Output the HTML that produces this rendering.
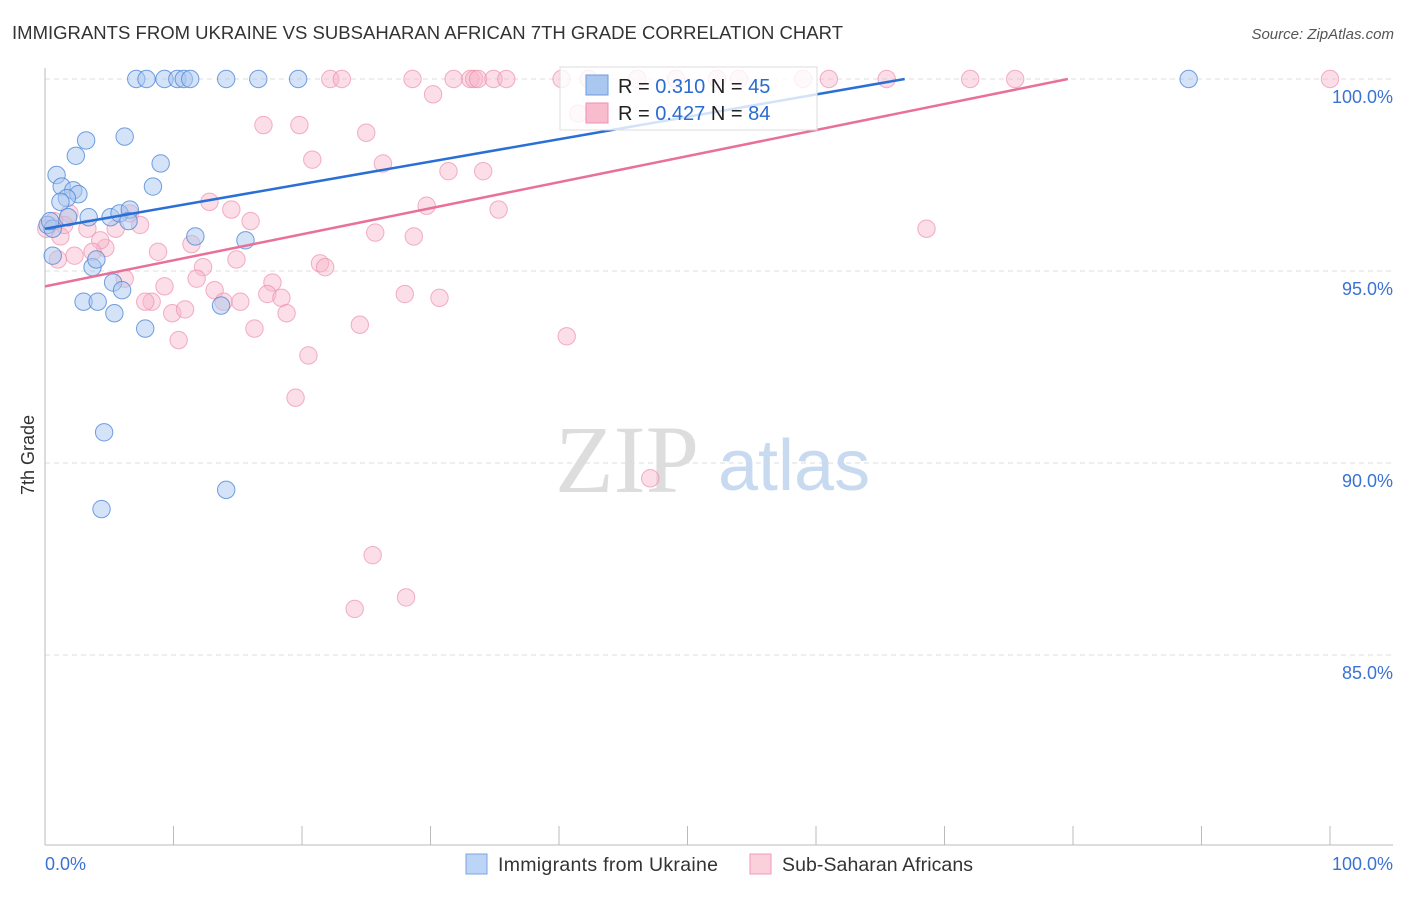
<!DOCTYPE html>
<html><head><meta charset="utf-8"><style>
body{margin:0;background:#fff;font-family:"Liberation Sans",sans-serif;}
</style></head><body>
<svg width="1406" height="892" xmlns="http://www.w3.org/2000/svg" style="font-family:'Liberation Sans',sans-serif">
<text x="12" y="39" font-size="18.5" fill="#333" textLength="831">IMMIGRANTS FROM UKRAINE VS SUBSAHARAN AFRICAN 7TH GRADE CORRELATION CHART</text>
<text x="1394" y="39" font-size="15" fill="#555" font-style="italic" text-anchor="end">Source: ZipAtlas.com</text>
<text x="34" y="455" font-size="18" fill="#333" transform="rotate(-90 34 455)" text-anchor="middle">7th Grade</text>
<g id="grid"></g>
<text x="555" y="492" font-size="96" fill="#ddd" font-family="Liberation Serif">ZIP</text>
<text x="718" y="490" font-size="72" fill="#c8daf0">atlas</text>
<g id="pts"></g>
<g id="lines"></g>
<g>
<rect x="560" y="67" width="257" height="63" fill="#fff" fill-opacity="0.8" stroke="#ddd"/>
<rect x="586" y="75" width="22" height="20" fill="#a9c7ef" stroke="#6a9ee0"/>
<rect x="586" y="103" width="22" height="20" fill="#f9bccf" stroke="#ef8fb0"/>
<text x="618" y="93" font-size="20" fill="#222">R = <tspan fill="#2a6bd1">0.310</tspan>   N = <tspan fill="#2a6bd1">45</tspan></text>
<text x="618" y="120" font-size="20" fill="#222">R = <tspan fill="#2a6bd1">0.427</tspan>   N = <tspan fill="#2a6bd1">84</tspan></text>
</g>
<g>
<rect x="466" y="854" width="21" height="20" fill="#bcd4f5" stroke="#7aa6e4"/>
<text x="498" y="871" font-size="19.5" fill="#333" textLength="220">Immigrants from Ukraine</text>
<rect x="750" y="854" width="21" height="20" fill="#fbd0dd" stroke="#f09ab7"/>
<text x="782" y="871" font-size="19.5" fill="#333" textLength="191">Sub-Saharan Africans</text>
</g>
</svg>
<script>
const blueX=[7.1,7.9,9.3,10.3,10.8,11.3,14.1,16.6,19.7,89,6.2,3.2,2.4,0.9,1.3,2.2,2.6,1.7,1.2,8.4,9,3.4,5.1,5.8,6.6,6.5,1.8,0.2,0.6,0.6,3.7,4,5.3,6,3,4.1,5.4,7.8,11.7,15.6,13.7,4.6,4.4,14.1,0.4];
const blueY=[100,100,100,100,100,100,100,100,100,100,98.5,98.4,98,97.5,97.2,97.1,97,96.9,96.8,97.2,97.8,96.4,96.4,96.5,96.6,96.3,96.4,96.2,96.1,95.4,95.1,95.3,94.7,94.5,94.2,94.2,93.9,93.5,95.9,95.8,94.1,90.8,88.8,89.3,96.3];
const pinkX=[22.2,23.1,28.6,31.8,33.1,33.4,33.7,34.9,35.9,40.2,42.3,46.1,52.3,59,65.5,72,75.5,100,41.5,17,19.8,25,30.2,20.8,26.3,31.4,34.1,12.8,14.5,16,35.3,29.7,25.7,28.7,68.6,8.8,11.4,14.9,21.4,21.8,12.3,4.7,4.3,3.3,5.5,7.4,6.6,1.9,1.2,1.5,2.3,3.7,6.2,9.3,11.8,17.7,13.2,8.3,7.8,13.9,15.2,17.3,18.4,18.8,9.9,10.9,16.3,10.4,24.5,28,30.7,40.6,20.5,19.5,47.1,25.5,24.1,28.1,0.7,0.1,1,49.1,54,61];
const pinkY=[100,100,100,100,100,100,100,100,100,100,100,100,100,100,100,100,100,100,99.1,98.8,98.8,98.6,99.6,97.9,97.8,97.6,97.6,96.8,96.6,96.3,96.6,96.7,96,95.9,96.1,95.5,95.7,95.3,95.2,95.1,95.1,95.6,95.8,96.1,96.1,96.2,96.5,96.5,95.9,96.2,95.4,95.5,94.8,94.6,94.8,94.7,94.5,94.2,94.2,94.2,94.2,94.4,94.3,93.9,93.9,94,93.5,93.2,93.6,94.4,94.3,93.3,92.8,91.7,89.6,87.6,86.2,86.5,96.3,96.1,95.3,100,100,100];
const blueLine=[[0,96.1],[66.9,100]];
const pinkLine=[[0,94.6],[79.6,100]];
const xTicks=[0,10,20,30,40,50,60,70,80,90,100];
const yTicks=[100,95,90,85];
const X=v=>45+v*12.85, Y=v=>79+(100-v)*38.4;
const NS="http://www.w3.org/2000/svg";
function mk(t,a,p){const e=document.createElementNS(NS,t);for(const k in a)e.setAttribute(k,a[k]);p.appendChild(e);return e;}
const g=document.getElementById('grid');
yTicks.forEach(v=>{
 const l=mk('line',{x1:45,x2:1393,y1:Y(v),y2:Y(v),stroke:'#ddd','stroke-dasharray':'5,4'},g);
 
 
 const t=mk('text',{x:1393,y:Y(v)+24,'font-size':18,fill:'#3a72d4','text-anchor':'end'},g);
 t.textContent=v.toFixed(1)+'%';
 
 
});
let ax=mk('line',{x1:45,x2:45,y1:68,y2:845,stroke:'#bbb'},g);


ax=mk('line',{x1:45,x2:1393,y1:845,y2:845,stroke:'#bbb'},g);


xTicks.forEach(v=>{
 const l=mk('line',{x1:X(v),x2:X(v),y1:826,y2:845,stroke:'#bbb'},g);
 
 
});
[[0,'0.0%','start',45],[100,'100.0%','end',1393]].forEach(([v,s,a,x])=>{
 const t=mk('text',{x:x,y:870,'font-size':18,fill:'#3a72d4','text-anchor':a},g);
 t.textContent=s;
 
 
});
const p=document.getElementById('pts');
pinkX.forEach((v,i)=>{
 const c=mk('circle',{cx:X(v),cy:Y(pinkY[i]),r:8.7,fill:'#f7b6ca','fill-opacity':0.45,stroke:'#ee8fae','stroke-opacity':0.7},p);
 
 
});
blueX.forEach((v,i)=>{
 const c=mk('circle',{cx:X(v),cy:Y(blueY[i]),r:8.7,fill:'#a9c7ef','fill-opacity':0.5,stroke:'#4f88d8','stroke-opacity':0.8},p);
 
 
});
const L=document.getElementById('lines');
let ln=mk('line',{x1:X(blueLine[0][0]),y1:Y(blueLine[0][1]),x2:X(blueLine[1][0]),y2:Y(blueLine[1][1]),stroke:'#2a6fd6','stroke-width':2.5},L);


ln=mk('line',{x1:X(pinkLine[0][0]),y1:Y(pinkLine[0][1]),x2:X(pinkLine[1][0]),y2:Y(pinkLine[1][1]),stroke:'#e8709a','stroke-width':2.5},L);


</script>
</body></html>
